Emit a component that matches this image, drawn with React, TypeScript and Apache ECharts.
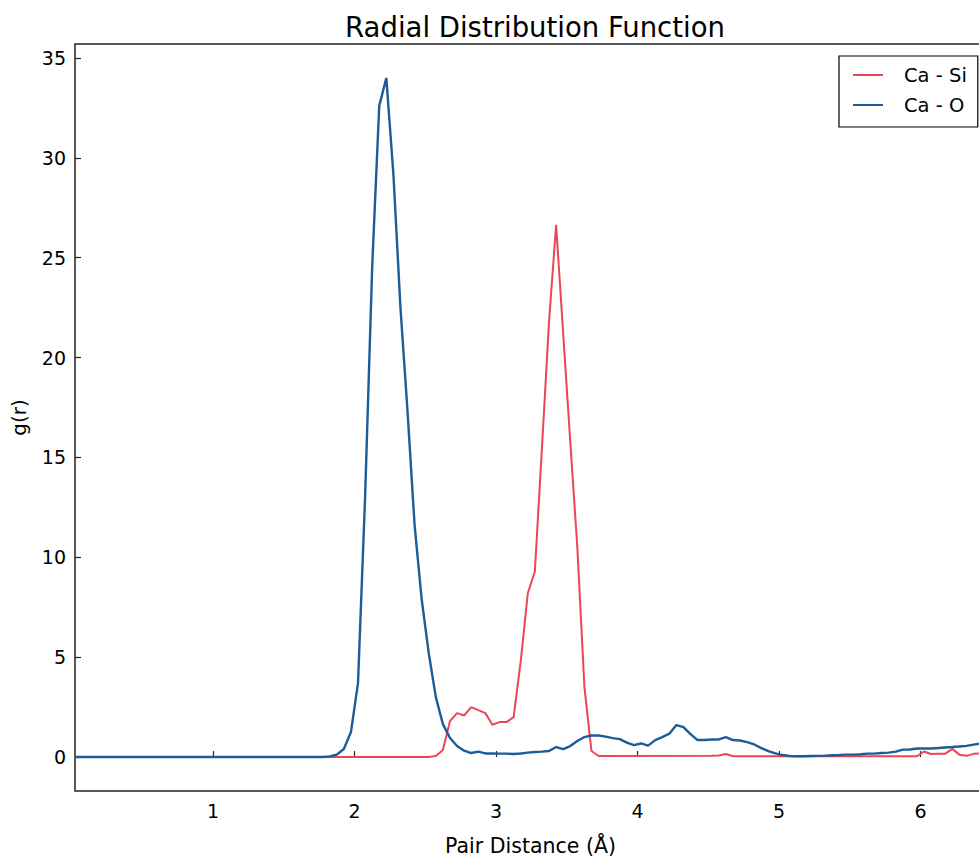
import React, { useEffect, useRef } from "react";
import * as echarts from "echarts";

// Pair distance r (Å) and g(r) for Ca - Si
const rCaSi = [
  0.025, 2.525, 2.575, 2.625, 2.675, 2.725, 2.775, 2.825, 2.875, 2.925, 2.975,
  3.025, 3.075, 3.125, 3.175, 3.225, 3.275, 3.325, 3.375, 3.425, 3.475, 3.525,
  3.575, 3.625, 3.675, 3.725, 4.525, 4.575, 4.625, 4.675, 5.975, 6.025, 6.075,
  6.125, 6.175, 6.225, 6.275, 6.325, 6.375, 6.425, 6.475,
];
const gCaSi = [
  0, 0, 0.05, 0.35, 1.8, 2.2, 2.08, 2.5, 2.35, 2.2, 1.62,
  1.75, 1.75, 2.0, 4.8, 8.2, 9.3, 15.5, 21.8, 26.65, 21.2, 15.8,
  10.5, 3.5, 0.3, 0.05, 0.06, 0.08, 0.15, 0.04, 0.04, 0.28, 0.15,
  0.16, 0.17, 0.41, 0.12, 0.06, 0.16, 0.19, 0.2,
];

// Pair distance r (Å) and g(r) for Ca - O
const rCaO = [
  0.025, 1.775, 1.825, 1.875, 1.925, 1.975, 2.025, 2.075, 2.125, 2.175, 2.225,
  2.275, 2.325, 2.375, 2.425, 2.475, 2.525, 2.575, 2.625, 2.675, 2.725, 2.775,
  2.825, 2.875, 2.925, 2.975, 3.025, 3.075, 3.125, 3.175, 3.225, 3.275, 3.325,
  3.375, 3.425, 3.475, 3.525, 3.575, 3.625, 3.675, 3.725, 3.775, 3.825, 3.875,
  3.925, 3.975, 4.025, 4.075, 4.125, 4.175, 4.225, 4.275, 4.325, 4.375, 4.425,
  4.475, 4.525, 4.575, 4.625, 4.675, 4.725, 4.775, 4.825, 4.875, 4.925, 4.975,
  5.025, 5.075, 5.125, 5.175, 5.225, 5.275, 5.325, 5.375, 5.425, 5.475, 5.525,
  5.575, 5.625, 5.675, 5.725, 5.775, 5.825, 5.875, 5.925, 5.975, 6.025, 6.075,
  6.125, 6.175, 6.225, 6.275, 6.325, 6.375, 6.425, 6.475,
];
const gCaO = [
  0, 0, 0.03, 0.12, 0.4, 1.25, 3.7, 13.0, 24.5, 32.6, 34.0,
  29.2, 22.5, 17.3, 11.6, 7.9, 5.2, 3.0, 1.65, 0.95, 0.55, 0.32,
  0.2, 0.27, 0.18, 0.18, 0.17, 0.17, 0.15, 0.18, 0.22, 0.25, 0.27,
  0.3, 0.5, 0.4, 0.55, 0.8, 1.0, 1.08, 1.08, 1.02, 0.95, 0.9,
  0.72, 0.6, 0.68, 0.57, 0.85, 1.0, 1.17, 1.6, 1.5, 1.15, 0.85,
  0.85, 0.88, 0.88, 1.0, 0.85, 0.83, 0.75, 0.63, 0.45, 0.3, 0.18,
  0.1, 0.05, 0.04, 0.04, 0.05, 0.06, 0.07, 0.09, 0.1, 0.12, 0.12,
  0.14, 0.17, 0.17, 0.2, 0.22, 0.27, 0.37, 0.38, 0.43, 0.43, 0.43,
  0.45, 0.48, 0.5, 0.53, 0.56, 0.62, 0.68, 0.72,
];

const xTicks = [1, 2, 3, 4, 5, 6];
const yTicks = [0, 5, 10, 15, 20, 25, 30, 35];

const FONT = "DejaVu Sans";

export default function App() {
  const ref = useRef<HTMLDivElement>(null);

  useEffect(() => {
    if (!ref.current) return;
    const chart = echarts.init(ref.current, null, { renderer: "svg" });
    const zip = (r: number[], g: number[]) => r.map((x, i) => [x, g[i]]);
    chart.setOption({
      animation: false,
      backgroundColor: "#ffffff",
      textStyle: { fontFamily: FONT },
      title: {
        text: "Radial Distribution Function",
        left: 530,
        top: 8,
        textAlign: "center",
        textStyle: { fontFamily: FONT, fontSize: 27.5, fontWeight: "normal", color: "#000" },
      },
      legend: {
        orient: "vertical",
        left: 839,
        top: 56,
        icon: "rect",
        itemWidth: 30,
        itemHeight: 2,
        itemGap: 10,
        padding: [9, 11, 12, 14],
        borderColor: "#000",
        borderWidth: 1.2,
        borderRadius: 0,
        backgroundColor: "#fff",
        textStyle: {
          fontFamily: FONT,
          fontSize: 19.5,
          lineHeight: 20,
          color: "#000",
          padding: [0, 0, 0, 16],
        },
        data: ["Ca - Si", "Ca - O"],
      },
      grid: {
        left: 75,
        right: 0,
        top: 44,
        bottom: 65,
        show: true,
        borderColor: "#222",
        borderWidth: 1.5,
        backgroundColor: "transparent",
        outerBoundsMode: "none",
        containLabel: false,
      },
      xAxis: {
        type: "value",
        min: 0.025,
        max: 6.463,
        name: "Pair Distance (Å)",
        nameLocation: "middle",
        nameGap: 44,
        nameTextStyle: { fontFamily: FONT, fontSize: 20.5, color: "#000" },
        axisLine: { show: false },
        splitLine: { show: false },
        axisTick: {
          show: true,
          inside: true,
          length: 6,
          customValues: xTicks,
          lineStyle: { color: "#222", width: 1.2 },
        },
        axisLabel: {
          customValues: xTicks,
          margin: 10,
          fontFamily: FONT,
          fontSize: 19,
          color: "#000",
        },
      },
      yAxis: {
        type: "value",
        min: -1.7,
        max: 35.7,
        name: "g(r)",
        nameLocation: "middle",
        nameGap: 46,
        nameRotate: 90,
        nameTextStyle: { fontFamily: FONT, fontSize: 20, color: "#000" },
        axisLine: { show: false },
        splitLine: { show: false },
        axisTick: {
          show: true,
          inside: true,
          length: 6,
          customValues: yTicks,
          lineStyle: { color: "#222", width: 1.2 },
        },
        axisLabel: {
          customValues: yTicks,
          margin: 9,
          fontFamily: FONT,
          fontSize: 19,
          color: "#000",
        },
      },
      series: [
        {
          name: "Ca - Si",
          type: "line",
          data: zip(rCaSi, gCaSi),
          symbol: "none",
          color: "#ec4656",
          lineStyle: { width: 2, color: "#ec4656" },
        },
        {
          name: "Ca - O",
          type: "line",
          data: zip(rCaO, gCaO),
          symbol: "none",
          color: "#1b5c99",
          lineStyle: { width: 2.4, color: "#1b5c99" },
        },
      ],
    });
    return () => chart.dispose();
  }, []);

  return (
    <div
      style={{
        position: "absolute",
        left: 0,
        top: 0,
        width: 979,
        height: 856,
        overflow: "hidden",
        background: "#fff",
      }}
    >
      <div ref={ref} style={{ width: 986, height: 856 }} />
    </div>
  );
}
